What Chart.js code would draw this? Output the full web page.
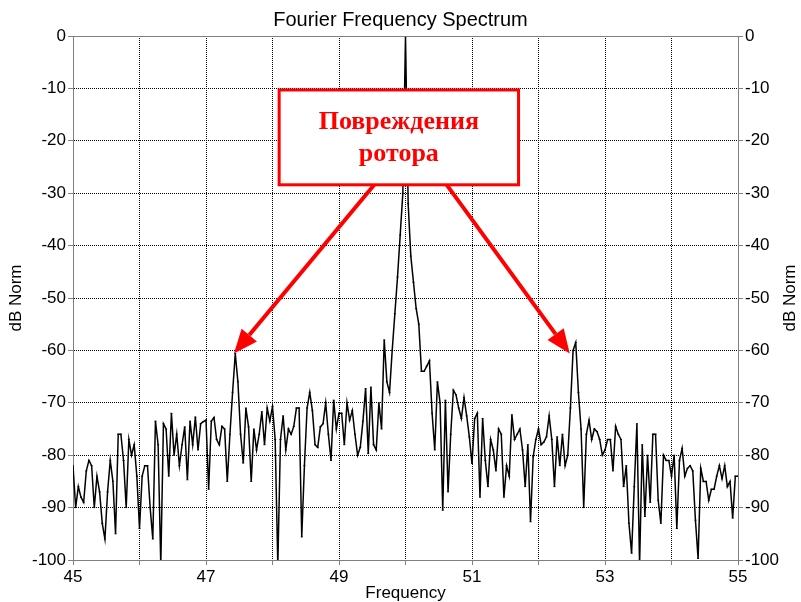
<!DOCTYPE html>
<html>
<head>
<meta charset="utf-8">
<script src="https://cdn.jsdelivr.net/npm/chart.js@4"></script>
<style>
  html, body { margin: 0; padding: 0; background: #fff; }
  canvas { display: block; }
</style>
</head>
<body>
<canvas id="spectrum" width="801" height="602"></canvas>
<script>
// Спектр: отсчёты через 0.04 Гц начиная с 45 Гц
const FREQ_START = 45;
const FREQ_STEP = 0.04;

// уровни, дБ
const dbNorm = [
  -82, -90, -86, -88, -89, -83, -81, -82, -90, -84,
  -87, -93, -96, -87, -81, -85, -95, -76, -76, -81,
  -90, -77, -80, -78, -84, -94, -84, -82, -82, -90,
  -96, -73.5, -78, -101, -74, -75, -84, -72, -80, -76,
  -82, -78, -74.6, -84.7, -73.5, -78, -72.7, -79, -74, -73.6,
  -73.3, -86.5, -73.5, -72.8, -77, -78, -74.5, -75, -85, -76,
  -68, -60.6, -66, -76, -81.5, -71, -74.6, -85, -75, -79,
  -76, -71.7, -78, -71, -73.5, -70.7, -77, -101, -77, -72.5,
  -79, -75, -76, -74.5, -71, -71, -95.6, -82, -71, -68,
  -71.5, -78, -78.5, -74.6, -74, -70, -76, -81, -69.5, -75,
  -72, -72, -78, -70, -73.3, -71.5, -76, -80, -78.5, -73.5,
  -67.3, -79.7, -67, -78, -79, -70, -75, -58, -66, -68,
  -60, -53, -46, -38, -30, 0, -32, -42, -47, -52,
  -55, -64, -64, -63, -62, -72, -79, -66, -70, -90.5,
  -69.5, -87, -76, -67.6, -68.5, -71, -73, -69, -72.5, -76.5,
  -81.6, -73, -72, -88, -73, -81, -86, -77, -79, -83,
  -75, -76, -88, -82, -84, -72.3, -77, -76, -75, -79,
  -86, -78, -92.7, -80.3, -77, -75, -78, -77.5, -76.5, -72.5,
  -77, -86, -76.5, -82, -76, -82, -80, -71, -60, -58.5,
  -68, -75, -90, -76, -73.3, -77, -75, -75.5, -77, -80,
  -79, -77, -77, -83, -74.5, -76, -77, -86, -82, -93,
  -98.7, -86, -74, -101, -78, -91.7, -80, -89, -76, -76,
  -88.6, -93, -80, -81, -81, -84, -80, -94, -81, -78.7,
  -84, -82.5, -82, -83, -92.4, -99.7, -82.5, -85, -85, -88.6,
  -86.5, -86.5, -84, -82, -84.5, -82, -86, -85, -92, -84,
  -84
];

const xLabeled = [45, 47, 49, 51, 53, 55];
const yTicks = [0, -10, -20, -30, -40, -50, -60, -70, -80, -90, -100];

const noteLines = ['Повреждения', 'ротора'];
// рамка и стрелки в координатах графика
const noteBox = { x0: 48.1, x1: 51.7, y0: -10.3, y1: -28.4 };
const noteArrows = [
  { from: [49.53, -28.4], to: [47.42, -60.6] },
  { from: [50.62, -28.4], to: [52.47, -60.6] }
];

const points = dbNorm.map((v, i) => ({ x: +(FREQ_START + i * FREQ_STEP).toFixed(2), y: v }));

const FONT = "'Liberation Sans', Arial, sans-serif";

function drawArrow(ctx, x0, y0, x1, y1) {
  const ang = Math.atan2(y1 - y0, x1 - x0);
  const headLen = 24, headW = 10;
  const bx = x1 - headLen * Math.cos(ang);
  const by = y1 - headLen * Math.sin(ang);
  ctx.beginPath();
  ctx.moveTo(x0, y0);
  ctx.lineTo(bx, by);
  ctx.stroke();
  ctx.beginPath();
  ctx.moveTo(x1, y1);
  ctx.lineTo(bx + headW * Math.sin(ang), by - headW * Math.cos(ang));
  ctx.lineTo(bx - headW * Math.sin(ang), by + headW * Math.cos(ang));
  ctx.closePath();
  ctx.fill();
}

const notePlugin = {
  id: 'rotorNote',
  afterDraw(chart) {
    const { ctx, chartArea: a, scales: { x, y } } = chart;
    ctx.save();

    // верхняя граница поля
    ctx.strokeStyle = '#808080';
    ctx.lineWidth = 1;
    ctx.beginPath();
    ctx.moveTo(a.left, Math.round(a.top) + 0.5);
    ctx.lineTo(a.right, Math.round(a.top) + 0.5);
    ctx.stroke();

    // правая подпись оси
    ctx.fillStyle = '#000';
    ctx.font = '17px ' + FONT;
    ctx.textAlign = 'center';
    ctx.textBaseline = 'middle';
    ctx.translate(790, (a.top + a.bottom) / 2);
    ctx.rotate(-Math.PI / 2);
    ctx.fillText('dB Norm', 0, 0);
    ctx.setTransform(1, 0, 0, 1, 0, 0);

    // стрелки
    ctx.strokeStyle = '#ff0000';
    ctx.fillStyle = '#ff0000';
    ctx.lineWidth = 4;
    noteArrows.forEach(ar => {
      drawArrow(ctx,
        x.getPixelForValue(ar.from[0]), y.getPixelForValue(ar.from[1]),
        x.getPixelForValue(ar.to[0]), y.getPixelForValue(ar.to[1]));
    });

    // рамка с текстом
    const bx0 = x.getPixelForValue(noteBox.x0), bx1 = x.getPixelForValue(noteBox.x1);
    const by0 = y.getPixelForValue(noteBox.y0), by1 = y.getPixelForValue(noteBox.y1);
    ctx.fillStyle = '#fff';
    ctx.fillRect(bx0, by0, bx1 - bx0, by1 - by0);
    ctx.lineWidth = 3;
    ctx.strokeRect(bx0, by0, bx1 - bx0, by1 - by0);

    ctx.fillStyle = '#ff0000';
    ctx.font = "bold 26px 'Liberation Serif', 'Times New Roman', serif";
    ctx.textAlign = 'center';
    ctx.textBaseline = 'middle';
    const cx = (bx0 + bx1) / 2, cy = (by0 + by1) / 2;
    ctx.fillText(noteLines[0], cx, cy - 15);
    ctx.fillText(noteLines[1], cx, cy + 17);
    ctx.restore();
  }
};

const gridDotted = {
  color: '#000',
  lineWidth: 1,
  tickLength: 5,
  tickColor: '#808080',
  tickBorderDash: [1, 0]
};

new Chart(document.getElementById('spectrum'), {
  type: 'line',
  data: {
    datasets: [{
      data: points,
      borderColor: '#000',
      borderWidth: 1.5,
      tension: 0,
      pointStyle: 'line',
      pointRadius: 1,
      pointBorderWidth: 1,
      pointBorderColor: '#000'
    }]
  },
  options: {
    responsive: false,
    animation: false,
    devicePixelRatio: 1,
    layout: { padding: 0 },
    plugins: {
      legend: { display: false },
      tooltip: { enabled: false },
      title: {
        display: true,
        text: 'Fourier Frequency Spectrum',
        color: '#000',
        font: { family: FONT, size: 20, weight: 'normal', lineHeight: 1 },
        padding: { top: 10, bottom: 6 }
      }
    },
    scales: {
      x: {
        type: 'linear',
        min: 45,
        max: 55,
        afterFit: s => { s.height = 42; },
        ticks: {
          stepSize: 1,
          autoSkip: false,
          maxRotation: 0,
          color: '#000',
          padding: 2,
          font: { family: FONT, size: 17 },
          callback: v => xLabeled.includes(v) ? String(v) : ''
        },
        grid: gridDotted,
        border: { display: true, color: '#808080', width: 1, dash: [1, 1] },
        title: {
          display: true,
          text: 'Frequency',
          color: '#000',
          font: { family: FONT, size: 17, lineHeight: 1 },
          padding: 0
        }
      },
      y: {
        position: 'left',
        min: -100,
        max: 0,
        afterFit: s => { s.width = 73; },
        afterBuildTicks: s => { s.ticks = yTicks.map(v => ({ value: v })); },
        ticks: {
          color: '#000',
          padding: 2,
          font: { family: FONT, size: 17 }
        },
        grid: gridDotted,
        border: { display: true, color: '#808080', width: 1, dash: [1, 1] },
        title: {
          display: true,
          text: 'dB Norm',
          color: '#000',
          font: { family: FONT, size: 17, lineHeight: 1 },
          padding: { top: 8, bottom: 0 }
        }
      },
      y2: {
        position: 'right',
        min: -100,
        max: 0,
        afterFit: s => { s.width = 63; },
        afterBuildTicks: s => { s.ticks = yTicks.map(v => ({ value: v })); },
        ticks: {
          color: '#000',
          padding: 2,
          font: { family: FONT, size: 17 }
        },
        grid: { drawOnChartArea: false, tickLength: 5, color: '#808080' },
        border: { display: true, color: '#808080', width: 1 }
      }
    }
  },
  plugins: [notePlugin]
});
</script>
</body>
</html>
